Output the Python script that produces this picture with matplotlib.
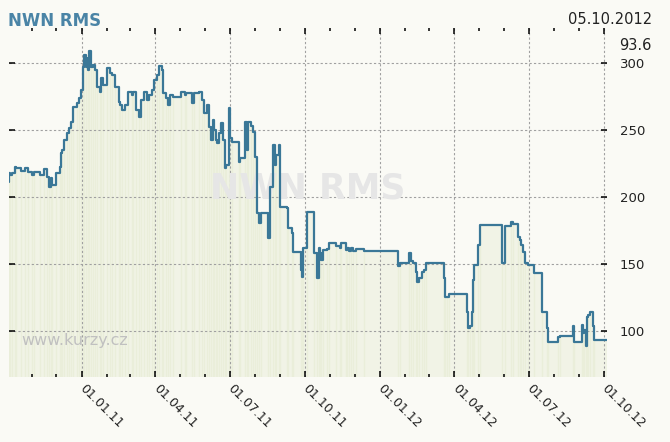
import matplotlib
matplotlib.use("Agg")
import matplotlib.pyplot as plt
import matplotlib.dates as mdates
import pandas as pd

title = "NWN RMS"
last_date_label = "05.10.2012"
last_value_label = "93.6"
watermark_name = "NWN RMS"
watermark_site = "www.kurzy.cz"

dates = [
    "2010-10-03", "2010-10-04", "2010-10-05", "2010-10-07", "2010-10-11", "2010-10-13",
    "2010-10-19", "2010-10-23", "2010-10-27", "2010-11-01", "2010-11-03", "2010-11-11",
    "2010-11-16", "2010-11-19", "2010-11-22", "2010-11-24", "2010-11-25", "2010-12-01",
    "2010-12-05", "2010-12-06", "2010-12-08", "2010-12-10", "2010-12-14", "2010-12-16",
    "2010-12-19", "2010-12-21", "2010-12-26", "2010-12-28", "2010-12-31",
    "2011-01-02", "2011-01-04", "2011-01-06", "2011-01-08", "2011-01-09", "2011-01-10",
    "2011-01-12", "2011-01-15", "2011-01-17", "2011-01-19", "2011-01-23", "2011-01-25",
    "2011-01-27", "2011-02-01", "2011-02-04", "2011-02-07", "2011-02-11", "2011-02-15",
    "2011-02-17", "2011-02-19", "2011-02-23", "2011-02-27", "2011-03-03", "2011-03-05",
    "2011-03-08", "2011-03-12", "2011-03-15", "2011-03-18", "2011-03-22", "2011-03-24",
    "2011-03-28", "2011-03-30", "2011-04-03", "2011-04-06", "2011-04-09", "2011-04-11",
    "2011-04-14", "2011-04-17", "2011-04-19", "2011-04-23", "2011-05-03", "2011-05-07",
    "2011-05-09", "2011-05-16", "2011-05-18", "2011-05-24", "2011-05-28", "2011-05-31",
    "2011-06-03", "2011-06-06", "2011-06-08", "2011-06-10", "2011-06-12", "2011-06-14",
    "2011-06-16", "2011-06-18", "2011-06-21", "2011-06-23", "2011-06-25", "2011-06-27",
    "2011-06-30", "2011-07-02", "2011-07-04", "2011-07-12", "2011-07-14", "2011-07-20",
    "2011-07-22", "2011-07-24", "2011-07-27", "2011-07-30", "2011-08-01", "2011-08-03",
    "2011-08-06", "2011-08-08", "2011-08-17", "2011-08-19", "2011-08-23", "2011-08-25",
    "2011-08-27", "2011-08-30", "2011-09-01", "2011-09-09", "2011-09-11", "2011-09-15",
    "2011-09-17", "2011-09-26", "2011-09-27", "2011-09-29", "2011-10-04", "2011-10-12",
    "2011-10-16", "2011-10-18", "2011-10-20", "2011-10-21", "2011-10-23", "2011-10-28",
    "2011-10-31", "2011-11-08", "2011-11-13", "2011-11-14", "2011-11-20", "2011-11-22",
    "2011-11-24", "2011-11-27", "2011-11-29", "2011-12-03", "2011-12-12",
    "2012-01-23", "2012-01-25", "2012-02-05", "2012-02-08", "2012-02-11", "2012-02-14",
    "2012-02-15", "2012-02-18", "2012-02-21", "2012-02-24", "2012-02-26", "2012-03-19",
    "2012-03-21", "2012-03-23", "2012-03-25", "2012-04-16", "2012-04-18", "2012-04-20",
    "2012-04-23", "2012-04-24", "2012-04-25", "2012-04-30", "2012-05-02", "2012-05-29",
    "2012-06-02", "2012-06-09", "2012-06-12", "2012-06-18", "2012-06-21", "2012-06-22",
    "2012-06-24", "2012-06-26", "2012-06-30", "2012-07-07", "2012-07-17", "2012-07-24",
    "2012-07-25", "2012-08-06", "2012-08-08", "2012-08-24", "2012-08-26", "2012-09-04",
    "2012-09-06", "2012-09-07", "2012-09-09", "2012-09-10", "2012-09-12", "2012-09-14",
    "2012-09-18", "2012-09-19", "2012-10-05",
]

values = [
    211.5, 217.8, 216.5, 218.0, 222.8, 221.8,
    219.8, 222.0, 218.8, 216.5, 219.0, 216.5,
    221.0, 215.3, 207.8, 214.3, 209.1, 217.8,
    222.8, 232.8, 235.2, 242.7, 247.7, 251.4,
    256.4, 267.6, 270.1, 273.9, 280.1,
    297.5, 306.2, 297.5, 303.7, 295.0, 309.2,
    297.5, 298.7, 295.0, 282.5, 278.8, 288.8,
    283.8, 296.3, 292.5, 291.3, 282.5, 271.3,
    268.8, 265.1, 268.8, 278.8, 276.3, 278.8,
    265.1, 259.7, 272.6, 278.8, 272.6, 276.3,
    280.1, 287.5, 291.3, 298.0, 295.0, 277.6,
    273.9, 268.8, 276.3, 275.0, 278.8, 276.3,
    277.6, 270.1, 277.6, 278.8, 272.6, 262.6,
    268.8, 252.6, 242.7, 257.6, 250.2, 242.7,
    240.5, 247.9, 255.2, 242.7, 221.6, 224.0,
    266.4, 244.0, 241.4, 226.5, 229.0, 256.4,
    235.2, 256.4, 253.2, 248.9, 230.2, 187.9,
    180.5, 187.9, 169.3, 207.8, 239.0, 224.0,
    231.5, 239.0, 192.9, 191.7, 176.7, 173.0,
    159.2, 145.6, 140.6, 161.8, 188.7, 158.5,
    139.4, 161.8, 158.3, 153.0, 160.5, 161.0,
    166.0, 163.5, 162.2, 166.0, 160.5, 161.8,
    160.0, 161.8, 160.0, 161.0, 160.0,
    148.6, 150.6, 158.0, 152.3, 150.6, 144.3,
    136.8, 139.4, 144.3, 145.6, 151.0, 139.4,
    125.6, 125.0, 127.6, 114.4, 102.0, 103.7,
    114.4, 138.1, 149.3, 164.3, 179.2, 150.6,
    178.4, 181.7, 180.0, 170.5, 168.0, 164.3,
    159.2, 150.6, 149.3, 143.1, 114.4, 102.0,
    92.0, 95.7, 96.5, 103.7, 92.0, 104.5,
    98.5, 100.8, 89.0, 110.7, 112.0, 114.2,
    103.7, 93.6, 93.6,
]

y_ticks = [100, 150, 200, 250, 300]
y_range = (65.6, 326.4)
x_range = ("2010-10-03 12:00", "2012-10-05")

BG = "#FAFAF5"
LINE = "#3A7797"
FILL = "#F1F3E6"
STRIPE = "#EAEEDA"
GRID = "#A0A0A0"

d = pd.to_datetime(dates)

fig = plt.figure(figsize=(6.7, 4.42), dpi=100, facecolor=BG)
ax = fig.add_axes([0.013, 0.147, 0.893, 0.79], facecolor=BG)

ax.fill_between(d, values, y_range[0], step="post", color=FILL, lw=0, zorder=1)
ax.vlines(d, y_range[0], values, color=STRIPE, lw=1.0, zorder=1.1)
ax.plot(d, values, drawstyle="steps-post", color=LINE, lw=1.6, zorder=3)

ax.set_xlim(pd.Timestamp(x_range[0]), pd.Timestamp(x_range[1]))
ax.set_ylim(*y_range)

for s in ax.spines.values():
    s.set_visible(False)

ax.xaxis.set_major_locator(mdates.MonthLocator(bymonth=[1, 4, 7, 10]))
ax.xaxis.set_minor_locator(mdates.MonthLocator())
ax.xaxis.set_major_formatter(mdates.DateFormatter("%d.%m.%y"))
ax.set_yticks(y_ticks)

ax.grid(True, which="major", color=GRID, lw=0.8, linestyle=(0, (2, 2)), zorder=2)

ax.tick_params(axis="x", which="major", direction="in", length=4, width=1.1,
               color="black", top=True, bottom=True, labelsize=9, pad=7,
               labelcolor="#222222")
ax.tick_params(axis="x", which="minor", direction="in", length=2.5, width=1.1,
               color="black", top=True, bottom=True)
ax.tick_params(axis="y", which="major", direction="in", length=4, width=1.1,
               color="black", left=True, right=True, labelleft=False,
               labelright=True, labelsize=9.5, pad=9, labelcolor="#222222")

for lbl in ax.get_xticklabels():
    lbl.set_rotation(-45)
    lbl.set_ha("left")
    lbl.set_va("center")
    lbl.set_rotation_mode("anchor")

ax.text(0.50, 0.54, watermark_name, transform=ax.transAxes, fontsize=25,
        fontweight="bold", color="#E6E6E6", ha="center", va="center", zorder=2.5)
ax.text(0.021, 0.106, watermark_site, transform=ax.transAxes, fontsize=11.5,
        color="#C0C0C0", ha="left", va="center", zorder=2.5)

fig.text(8 / 670, 1 - 21 / 442, title, fontsize=12, fontweight="bold",
         color="#4A84A6", ha="left", va="center")
fig.text(652 / 670, 1 - 20 / 442, last_date_label, fontsize=10.5,
         color="#222222", ha="right", va="center")
fig.text(652 / 670, 1 - 45 / 442, last_value_label, fontsize=10.5,
         color="#222222", ha="right", va="center")

fig.savefig("out.png", dpi=100, facecolor=BG)
